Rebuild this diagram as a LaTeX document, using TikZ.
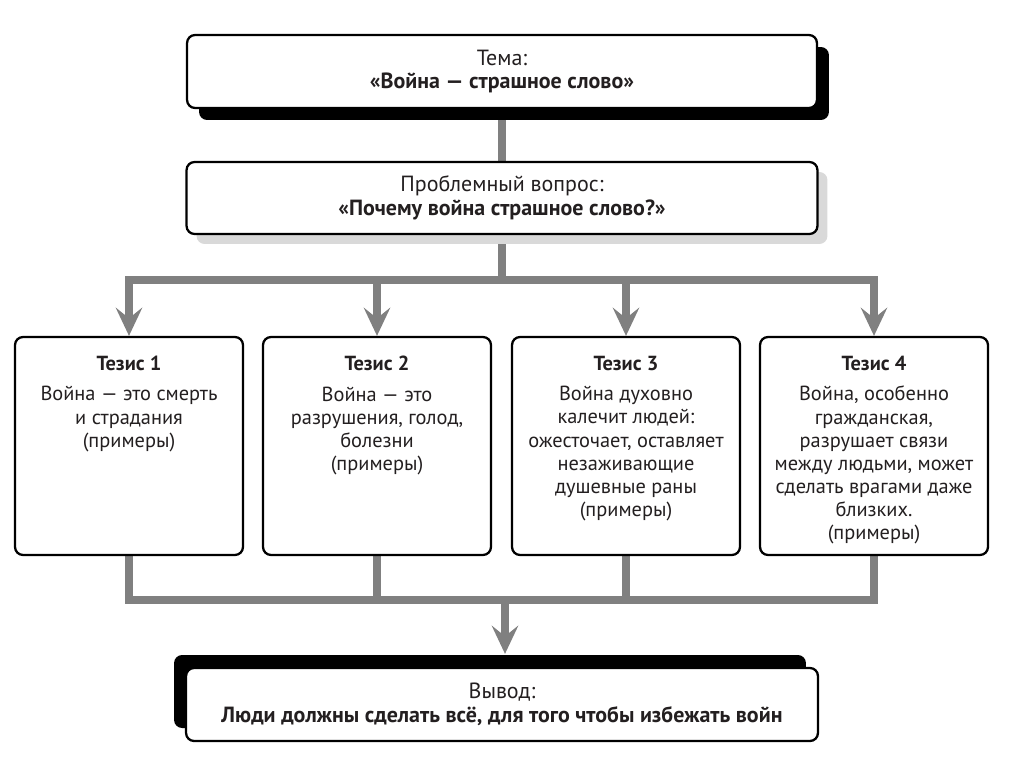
\documentclass[tikz,border=0pt]{standalone}
\usepackage{fontspec}
\setmainfont{PT Sans}
\usetikzlibrary{positioning,arrows.meta,shadows,backgrounds}

\definecolor{linegray}{HTML}{808080}
\definecolor{shadegray}{HTML}{D9D9D9}
\definecolor{inkgray}{HTML}{231F20}

\tikzset{
  box/.style={draw=black, line width=1.3pt, rounded corners=0.16cm, fill=white,
    align=center, text=inkgray, font=\fontsize{12.5}{13.5}\selectfont, inner sep=0pt},
  txt/.style={align=center, text=inkgray, font=\fontsize{11.6}{13.2}\selectfont, inner sep=0pt},
  wire/.style={draw=linegray, line width=4pt},
  arr/.style={wire, -{Stealth[length=16pt,width=15pt,inset=6pt]}},
}

\begin{document}
\begin{tikzpicture}[x=0.02cm,y=-0.02cm]
    \useasboundingbox (0,0) rectangle (1024,767);
    \node[box, minimum width=12.6cm, minimum height=1.46cm,
      drop shadow={fill=black, opacity=1, shadow xshift=0.24cm, shadow yshift=-0.24cm}]
      (theme) at (502,71.5) {Тема:\\\textbf{«Война — страшное слово»}};
    \node[box, minimum width=12.62cm, minimum height=1.44cm,
      drop shadow={fill=shadegray, opacity=1, shadow xshift=0.2cm, shadow yshift=-0.2cm}]
      (prob) at (502,198) {Проблемный вопрос:\\\textbf{«Почему война страшное слово?»}};
    \foreach \x/\body [count=\i] in {129/{Война — это смерть\\и страдания\\(примеры)},
        377/{Война — это\\разрушения, голод,\\болезни\\(примеры)},
        626/{Война духовно\\калечит людей:\\ожесточает, оставляет\\незаживающие\\душевные раны\\(примеры)},
        874/{Война, особенно\\гражданская,\\разрушает связи\\между людьми, может\\сделать врагами даже\\близких.\\(примеры)}} {
      \node[box, minimum width=4.56cm, minimum height=4.36cm] (th\i) at (\x,446) {};
      \node[txt, below=0.4cm of th\i.north] (th\i txt) {\textbf{Тезис \i}\\[4pt]\body};
    }
    \node[box, minimum width=12.64cm, minimum height=1.46cm,
      drop shadow={fill=black, opacity=1, shadow xshift=-0.24cm, shadow yshift=0.26cm}]
      (concl) at (502,704.5) {Вывод:\\\textbf{Люди должны сделать всё, для того чтобы избежать войн}};
    % connectors
    \begin{scope}[on background layer]
      \coordinate (tjoin) at (502,280);
      \coordinate (bjoin) at (505,600);
      \draw[wire] (theme) -- (prob);
      \draw[wire] (prob) -- (tjoin);
      \draw[wire, line cap=rect] (th1.north |- tjoin) -- (th4.north |- tjoin);
      \foreach \i in {1,...,4} {\draw[arr] (th\i.north |- tjoin) -- (th\i.north);}
      \foreach \i in {1,...,4} {\draw[wire] (th\i.south) -- (th\i.south |- bjoin);}
      \draw[wire, line cap=rect] (th1.south |- bjoin) -- (th4.south |- bjoin);
      \draw[arr, shorten >=0.26cm] (bjoin) -- (bjoin |- concl.north);
    \end{scope}
\end{tikzpicture}
\end{document}
